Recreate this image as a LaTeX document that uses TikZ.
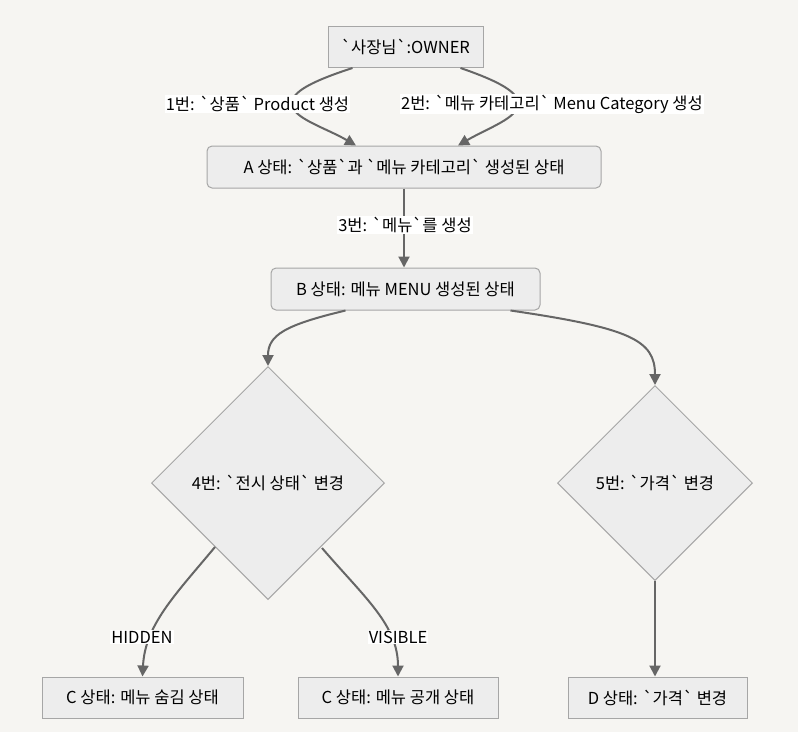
\documentclass[tikz,border=0pt]{standalone}
\usepackage{fontspec}
\setmainfont{Noto Sans CJK KR}[Ligatures=TeXOff]
\usetikzlibrary{shapes.geometric,arrows.meta,calc}
\definecolor{bgc}{HTML}{F6F5F2}
\definecolor{nodefill}{HTML}{EDEDED}
\definecolor{nodeline}{HTML}{A6A6A6}
\definecolor{edgec}{HTML}{666666}
\begin{document}
\begin{tikzpicture}[x=1pt,y=-1pt,
  font=\fontsize{16.5}{19}\selectfont,
  box/.style={draw=nodeline, fill=nodefill, line width=1pt, minimum height=41pt, inner sep=0pt},
  rbox/.style={box, rounded corners=5pt},
  dia/.style={draw=nodeline, fill=nodefill, line width=1pt, diamond, inner sep=0pt, aspect=1},
  edge/.style={draw=edgec, line width=2pt, -{Triangle[length=11pt,width=11pt]}},
  lbl/.style={fill=white, inner sep=1pt}]
\fill[bgc] (0,0) rectangle (798,732);
\useasboundingbox (0,0) rectangle (798,732);

\node[box, minimum width=155pt] (own) at (405.5,47) {`사장님`:OWNER};
\node[rbox, minimum width=394pt, minimum height=42pt] (a) at (404,167) {A 상태: `상품`과 `메뉴 카테고리` 생성된 상태};
\node[rbox, minimum width=269pt, minimum height=42pt] (b) at (405.5,289) {B 상태: 메뉴 MENU 생성된 상태};
\node[dia, minimum width=233pt, minimum height=233pt] (d4) at (268,483) {4번: `전시 상태` 변경};
\node[dia, minimum width=195pt, minimum height=195pt] (d5) at (655,483) {5번: `가격` 변경};
\node[box, minimum width=201pt] (ch) at (142.5,697.5) {C 상태: 메뉴 숨김 상태};
\node[box, minimum width=200pt] (cv) at (398,697.5) {C 상태: 메뉴 공개 상태};
\node[box, minimum width=179pt] (dd) at (657.5,697.5) {D 상태: `가격` 변경};

\draw[edge] ($(own.south)+(-53,0)$) .. controls (300,85) and (292,95) .. (292,104) .. controls (292,118) and (326,128) .. ($(a.north)+(-48,0)$);
\draw[edge] ($(own.south)+(55,0)$) .. controls (510,85) and (518,95) .. (518,104) .. controls (518,118) and (488,128) .. ($(a.north)+(54,0)$);
\draw[edge] (a.south) -- (a.south|-b.north);
\draw[edge] ($(b.south)+(-60,0)$) .. controls (285,325) and (268,335) .. (d4.north);
\draw[edge] ($(b.south)+(105,0)$) .. controls (630,328) and (655,340) .. (d5.north);
\draw[edge] ($(d4.center)+(-53,64)$) .. controls (175,595) and (145,625) .. (ch.north);
\draw[edge] ($(d4.center)+(54,65)$) .. controls (365,598) and (398,625) .. (cv.north);
\draw[edge] (d5.south) -- (d5.south|-dd.north);

\node[lbl] (l1) at (257.5,104) {1번: `상품` Product 생성};
\node[lbl] (l2) at (552,104) {2번: `메뉴 카테고리` Menu Category 생성};
\node[lbl] (l3) at (405,225) {3번: `메뉴`를 생성};
\node[lbl] (l4) at (142,637) {HIDDEN};
\node[lbl] (l5) at (398,637) {VISIBLE};
\end{tikzpicture}
\end{document}
